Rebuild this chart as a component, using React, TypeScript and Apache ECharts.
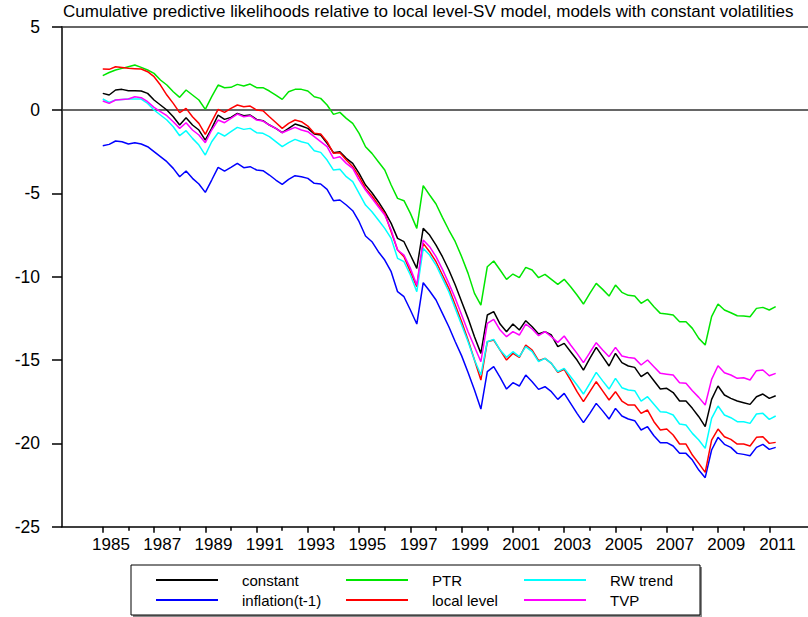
import React, { useEffect, useRef } from "react";
import * as echarts from "echarts";

const TITLE =
  "Cumulative predictive likelihoods relative to local level-SV model, models with constant volatilities";

const seriesNames = ["constant", "inflation(t-1)", "PTR", "local level", "RW trend", "TVP"];
const seriesColors = ["#000000", "#0000ff", "#00e600", "#ff0000", "#00ffff", "#ff00ff"];

// quarterly, 1985Q1 .. 2011Q2
const startYear = 1985;

const constant = [
  1.0, 0.9, 1.2, 1.24, 1.16, 1.16, 1.14, 1.0, 0.6, 0.3, 0.0, -0.4, -0.9, -0.46, -0.9, -1.2, -1.8, -1.1, -0.3, -0.56,
  -0.44, -0.2, -0.34, -0.3, -0.56, -0.64, -0.9, -1.1, -1.36, -1.1, -0.84, -0.96, -1.1, -1.44, -1.5, -2.0, -2.56, -2.5, -2.9, -3.2,
  -3.8, -4.5, -4.96, -5.5, -6.1, -6.8, -7.7, -7.9, -8.7, -9.5, -7.1, -7.5, -8.1, -8.8, -9.6, -10.5, -11.5, -12.5, -13.6, -14.6,
  -12.3, -12.1, -12.84, -13.3, -12.84, -13.2, -12.64, -13.0, -13.44, -13.3, -13.5, -14.2, -14.0, -14.5, -15.0, -15.6, -14.9, -14.24, -14.8, -15.36,
  -14.6, -15.16, -15.36, -15.44, -16.0, -15.74, -16.24, -16.74, -16.7, -16.95, -17.46, -17.46, -17.9, -18.4, -19.0, -17.36, -16.56, -17.1, -17.3, -17.46,
  -17.56, -17.66, -17.2, -17.04, -17.3, -17.14,
];

const inflationLag = [
  -2.14, -2.06, -1.86, -1.9, -2.04, -1.96, -2.04, -2.2, -2.5, -2.8, -3.1, -3.5, -4.0, -3.66, -4.1, -4.44, -4.94, -4.2, -3.44, -3.66,
  -3.44, -3.2, -3.46, -3.4, -3.6, -3.64, -3.9, -4.2, -4.46, -4.16, -3.94, -4.0, -4.1, -4.4, -4.44, -4.76, -5.44, -5.4, -5.7, -6.04,
  -6.7, -7.56, -7.9, -8.5, -9.0, -9.7, -10.9, -11.2, -12.0, -12.84, -10.36, -10.86, -11.4, -12.2, -13.0, -13.9, -14.75, -15.75, -16.8, -17.94,
  -15.7, -15.4, -16.04, -16.74, -16.36, -16.56, -15.9, -16.3, -16.76, -16.6, -16.9, -17.36, -17.0, -17.6, -18.2, -18.76, -18.2, -17.6, -18.05, -18.54,
  -17.9, -18.36, -18.54, -18.64, -19.2, -19.0, -19.54, -19.96, -19.96, -20.16, -20.6, -20.6, -21.0, -21.6, -22.06, -20.4, -19.64, -20.06, -20.24, -20.6,
  -20.66, -20.74, -20.24, -20.06, -20.36, -20.24,
];

const ptr = [
  2.06, 2.25, 2.4, 2.5, 2.6, 2.7, 2.56, 2.4, 2.2, 1.8, 1.5, 1.1, 0.76, 1.2, 0.9, 0.6, 0.04, 0.8, 1.5, 1.34,
  1.36, 1.54, 1.44, 1.56, 1.34, 1.34, 1.14, 0.9, 0.64, 1.1, 1.24, 1.24, 1.14, 0.8, 0.7, 0.3, -0.26, -0.14, -0.5, -0.8,
  -1.4, -2.2, -2.6, -3.1, -3.6, -4.5, -5.3, -5.44, -6.2, -7.1, -4.54, -5.1, -5.64, -6.44, -7.2, -7.9, -8.8, -9.8, -11.0, -11.7,
  -9.4, -9.06, -9.6, -10.16, -9.84, -10.06, -9.44, -9.6, -10.06, -9.86, -10.16, -10.46, -10.16, -10.6, -11.1, -11.64, -11.0, -10.4, -10.76, -11.16,
  -10.5, -10.94, -11.12, -11.16, -11.6, -11.36, -11.8, -12.2, -12.24, -12.3, -12.7, -12.7, -13.1, -13.7, -14.1, -12.4, -11.64, -12.0, -12.16, -12.34,
  -12.36, -12.4, -11.9, -11.84, -12.0, -11.8,
];

const localLevel = [
  2.46, 2.44, 2.6, 2.55, 2.5, 2.48, 2.46, 2.3, 2.0, 1.5, 0.9, 0.4, -0.16, 0.1, -0.4, -0.8, -1.46, -0.7, 0.04, -0.14,
  0.1, 0.3, 0.2, 0.24, 0.0, -0.04, -0.4, -0.75, -1.1, -0.8, -0.6, -0.7, -0.96, -1.4, -1.44, -1.9, -2.6, -2.56, -3.0, -3.4,
  -4.0, -4.7, -5.16, -5.7, -6.2, -7.3, -8.4, -8.8, -9.7, -10.6, -8.0, -8.5, -9.1, -9.9, -10.7, -11.7, -12.7, -13.8, -15.0, -16.2,
  -13.9, -13.8, -14.4, -15.0, -14.6, -14.84, -14.1, -14.4, -15.04, -14.9, -15.2, -15.74, -15.56, -16.2, -16.9, -17.5, -16.9, -16.3, -16.85, -17.4,
  -16.9, -17.46, -17.7, -17.7, -18.2, -18.0, -18.7, -19.2, -19.14, -19.5, -20.04, -20.04, -20.7, -21.2, -21.74, -19.8, -19.14, -19.6, -19.76, -20.04,
  -20.04, -20.16, -19.64, -19.6, -20.0, -19.94,
];

const rwTrend = [
  0.66, 0.46, 0.6, 0.63, 0.66, 0.66, 0.66, 0.4, 0.0, -0.3, -0.6, -1.0, -1.54, -1.24, -1.7, -2.1, -2.7, -1.9, -1.36, -1.56,
  -1.3, -1.04, -1.16, -1.1, -1.36, -1.4, -1.6, -1.9, -2.2, -1.96, -1.76, -1.9, -2.0, -2.44, -2.54, -3.0, -3.6, -3.56, -4.0, -4.3,
  -5.0, -5.7, -6.1, -6.6, -7.1, -7.7, -8.9, -9.1, -9.9, -10.9, -8.3, -8.7, -9.3, -10.1, -10.9, -11.9, -12.9, -13.9, -15.0, -15.9,
  -13.9, -13.76, -14.4, -14.84, -14.5, -14.8, -14.2, -14.5, -15.1, -14.9, -15.2, -15.7, -15.5, -16.0, -16.5, -17.04, -16.4, -15.74, -16.25, -16.74,
  -16.1, -16.66, -16.8, -16.84, -17.46, -17.2, -17.65, -18.1, -18.14, -18.3, -18.84, -18.9, -19.4, -19.8, -20.3, -18.5, -17.76, -18.3, -18.46, -18.7,
  -18.7, -18.8, -18.24, -18.2, -18.56, -18.36,
];

const tvp = [
  0.54, 0.4, 0.6, 0.63, 0.66, 0.8, 0.74, 0.5, 0.16, -0.1, -0.34, -0.7, -1.1, -0.76, -1.2, -1.5, -1.96, -1.2, -0.6, -0.76,
  -0.5, -0.24, -0.4, -0.34, -0.6, -0.66, -0.9, -1.1, -1.36, -1.2, -1.04, -1.2, -1.3, -1.6, -1.9, -2.2, -2.9, -2.8, -3.2, -3.5,
  -4.2, -4.8, -5.3, -5.8, -6.3, -7.2, -8.4, -8.7, -9.5, -10.5, -7.8, -8.2, -8.8, -9.56, -10.4, -11.3, -12.3, -13.3, -14.2, -15.1,
  -12.8, -12.56, -13.2, -13.6, -13.3, -13.5, -12.84, -13.14, -13.54, -13.3, -13.6, -13.94, -13.56, -14.1, -14.6, -15.16, -14.55, -13.96, -14.4, -14.8,
  -14.24, -14.76, -14.85, -14.9, -15.3, -15.0, -15.4, -15.8, -15.85, -15.9, -16.36, -16.4, -16.84, -17.24, -17.7, -16.16, -15.34, -15.76, -15.9, -16.1,
  -16.06, -16.2, -15.64, -15.6, -15.94, -15.8,
];

const seriesValues = [constant, inflationLag, ptr, localLevel, rwTrend, tvp];

const labelYears = [1985, 1987, 1989, 1991, 1993, 1995, 1997, 1999, 2001, 2003, 2005, 2007, 2009, 2011];
const minorTickYears = [1986, 1988, 1990, 1992, 1994, 1996, 1998, 2000, 2002, 2004, 2006, 2008, 2010];
const yMin = -25;
const yMax = 5;
const yStep = 5;

const FONT = "'Liberation Sans', Arial, Helvetica, sans-serif";

export default function App() {
  const ref = useRef<HTMLDivElement>(null);

  useEffect(() => {
    document.body.style.margin = "0";
    if (!ref.current) return;
    const chart = echarts.init(ref.current, undefined, { renderer: "svg" });
    const xMin = 1983.41;
    const xMax = 2012.51;

    const series: any[] = seriesNames.map((name, k) => ({
      name,
      type: "line",
      xAxisIndex: 0,
      yAxisIndex: 0,
      data: seriesValues[k].map((v, i) => [startYear + i / 4, v]),
      showSymbol: false,
      symbol: "none",
      color: seriesColors[k],
      lineStyle: { color: seriesColors[k], width: 1.5 },
      z: 3 + k,
    }));
    series[0].markLine = {
      silent: true,
      symbol: "none",
      label: { show: false },
      lineStyle: { color: "#333", width: 1.5, type: "solid" },
      data: [{ yAxis: 0 }, { yAxis: yMax }],
      z: 1,
    };

    const legendBase = {
      orient: "vertical",
      top: 570,
      height: 44,
      padding: 0,
      itemWidth: 62,
      itemHeight: 2,
      itemGap: 0,
      icon: "rect",
      selectedMode: false,
      textStyle: { fontFamily: FONT, fontSize: 15, color: "#000", lineHeight: 20, padding: [0, 0, 0, 19] },
    };

    chart.setOption({
      animation: false,
      backgroundColor: "#fff",
      title: {
        text: TITLE,
        left: 63,
        top: 3,
        padding: 0,
        textStyle: { fontFamily: FONT, fontSize: 17, fontWeight: "normal", color: "#000" },
      },
      grid: { left: 62, right: 0, top: 26.7, bottom: 617 - 526.7, containLabel: false },
      xAxis: [
        {
          type: "value",
          min: xMin,
          max: xMax,
          position: "bottom",
          axisLine: { show: true, onZero: false, lineStyle: { color: "#000", width: 1.5 } },
          axisTick: { show: true, length: 6, customValues: labelYears, lineStyle: { color: "#000", width: 1.5 } },
          axisLabel: {
            show: true,
            customValues: labelYears.map((y) => y + 0.32),
            formatter: (v: number) => String(Math.floor(v)),
            fontFamily: FONT,
            fontSize: 17,
            color: "#000",
            margin: 9,
          },
          splitLine: { show: false },
        },
        {
          type: "value",
          min: xMin,
          max: xMax,
          position: "bottom",
          axisLine: { show: false, onZero: false },
          axisTick: { show: true, length: 4, customValues: minorTickYears, lineStyle: { color: "#000", width: 1.5 } },
          axisLabel: { show: false },
          splitLine: { show: false },
        },
      ],
      yAxis: {
        type: "value",
        min: yMin,
        max: yMax,
        interval: yStep,
        axisLine: { show: true, lineStyle: { color: "#000", width: 1.5 } },
        axisTick: { show: true, length: 10, lineStyle: { color: "#000", width: 1.5 } },
        axisLabel: { fontFamily: FONT, fontSize: 17.5, color: "#000", margin: 22 },
        splitLine: { show: false },
      },
      legend: [
        { ...legendBase, left: 156, data: ["constant", "inflation(t-1)"] },
        { ...legendBase, left: 346, data: ["PTR", "local level"] },
        { ...legendBase, left: 524, data: ["RW trend", "TVP"] },
      ],
      graphic: [
        {
          type: "rect",
          shape: { x: 133, y: 567, width: 569, height: 50 },
          style: { fill: "#888", stroke: "none" },
          z: -1,
        },
        {
          type: "rect",
          shape: { x: 131, y: 565, width: 569, height: 50 },
          style: { fill: "#fff", stroke: "#000", lineWidth: 1 },
          z: 0,
        },
      ],
      series,
    });

    return () => chart.dispose();
  }, []);

  return <div ref={ref} style={{ width: 808, height: 617 }} />;
}
